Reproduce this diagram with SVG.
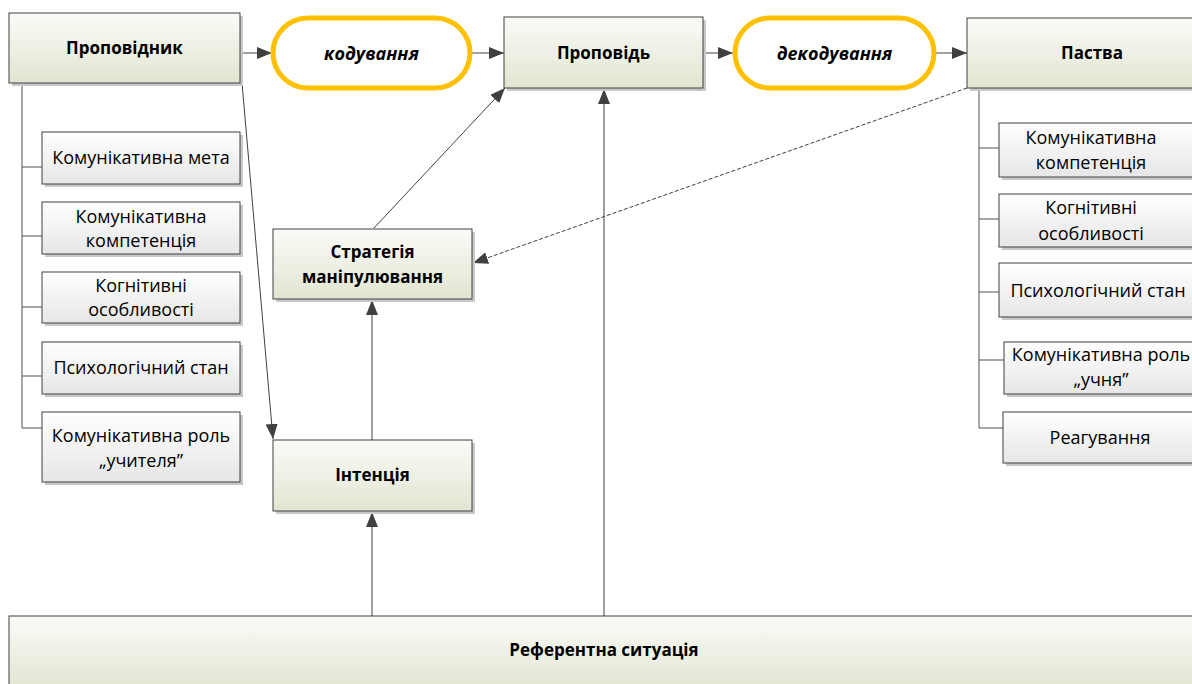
<svg xmlns="http://www.w3.org/2000/svg" width="1192" height="684" viewBox="0 0 1192 684">
<defs>
<linearGradient id="gG" x1="0" y1="0" x2="0" y2="1"><stop offset="0" stop-color="#fbfbf7"/><stop offset="1" stop-color="#e0e5d1"/></linearGradient>
<linearGradient id="gS" x1="0" y1="0" x2="0" y2="1"><stop offset="0" stop-color="#ffffff"/><stop offset="1" stop-color="#e6e6e6"/></linearGradient>
<marker id="ar" viewBox="0 0 15 12" refX="15" refY="6" markerWidth="15" markerHeight="12" markerUnits="userSpaceOnUse" orient="auto"><path d="M0,0 L15,6 L0,12 Z" fill="#404040"/></marker>
<style>
.main{fill:url(#gG);stroke:#404040;stroke-width:1}
.sub{fill:url(#gS);stroke:#404040;stroke-width:1}
.sh{fill:#c8c8c8}
.pill{fill:#fff;stroke:#ffc000;stroke-width:5}
.tb{font-family:"Open Sans","Noto Sans",sans-serif;font-weight:bold;font-size:17px;fill:#000;text-anchor:middle}
.ti{font-family:"Open Sans","Noto Sans",sans-serif;font-weight:bold;font-style:italic;font-size:18px;fill:#000;text-anchor:middle}
.tn{font-family:"Open Sans","Noto Sans",sans-serif;font-size:18px;fill:#000;text-anchor:middle}
.c{stroke:#404040;stroke-width:1;fill:none}
.t{stroke:#505050;stroke-width:1;fill:none}
</style>
</defs>
<rect width="1192" height="684" fill="#fff"/>

<g id="tree-lines">
<path class="t" d="M22,83 V428 M22,167 H42 M22,236 H42 M22,307 H42 M22,376 H42 M22,428 H42"/>
<path class="t" d="M979,88 V428 M979,148 H999 M979,219 H999 M979,292 H999 M979,360 H1004 M979,428 H1003"/>
</g>

<g id="connectors">
<line class="c" x1="240" y1="53" x2="272" y2="53" marker-end="url(#ar)"/>
<line class="c" x1="471" y1="53" x2="504" y2="53" marker-end="url(#ar)"/>
<line class="c" x1="703" y1="53" x2="733" y2="53" marker-end="url(#ar)"/>
<line class="c" x1="936" y1="53" x2="967" y2="53" marker-end="url(#ar)"/>
<line class="c" x1="240" y1="60" x2="273" y2="439" marker-end="url(#ar)"/>
<line class="c" x1="374" y1="228" x2="505" y2="88" marker-end="url(#ar)"/>
<line class="c" x1="372" y1="440" x2="372" y2="300" marker-end="url(#ar)"/>
<line class="c" x1="372" y1="616" x2="372" y2="512" marker-end="url(#ar)"/>
<line class="c" x1="604" y1="616" x2="604" y2="89" marker-end="url(#ar)"/>
<line class="c" x1="967" y1="88" x2="473" y2="263" stroke-dasharray="4,2" marker-end="url(#ar)"/>
</g>

<g id="n-propovidnyk">
<rect class="sh" x="12" y="16" width="231" height="70"/>
<rect class="main" x="9" y="13" width="231" height="70"/>
<text class="tb" x="124.5" y="54">Проповідник</text>
</g>

<g id="n-koduvannia">
<rect class="pill" x="273" y="18" width="197" height="70" rx="35"/>
<text class="ti" x="371.5" y="59.5">кодування</text>
</g>

<g id="n-propovid">
<rect class="sh" x="507" y="20" width="199" height="71"/>
<rect class="main" x="504" y="17" width="199" height="71"/>
<text class="tb" x="603.5" y="59">Проповідь</text>
</g>

<g id="n-dekoduvannia">
<rect class="pill" x="735" y="18" width="199" height="70" rx="35"/>
<text class="ti" x="834.5" y="59.5">декодування</text>
</g>

<g id="n-pastva">
<rect class="sh" x="970" y="21" width="230" height="70"/>
<rect class="main" x="967" y="18" width="230" height="70"/>
<text class="tb" x="1092" y="59">Паства</text>
</g>

<g id="n-l1">
<rect class="sh" x="45" y="135" width="198" height="52"/>
<rect class="sub" x="42" y="132" width="198" height="52"/>
<text class="tn" x="141" y="164">Комунікативна мета</text>
</g>
<g id="n-l2">
<rect class="sh" x="45" y="205" width="198" height="52"/>
<rect class="sub" x="42" y="202" width="198" height="52"/>
<text class="tn" x="141" y="223">Комунікативна</text>
<text class="tn" x="141" y="247">компетенція</text>
</g>
<g id="n-l3">
<rect class="sh" x="45" y="275" width="198" height="51"/>
<rect class="sub" x="42" y="272" width="198" height="51"/>
<text class="tn" x="141" y="292">Когнітивні</text>
<text class="tn" x="141" y="316">особливості</text>
</g>
<g id="n-l4">
<rect class="sh" x="45" y="345" width="198" height="52"/>
<rect class="sub" x="42" y="342" width="198" height="52"/>
<text class="tn" x="141" y="374">Психологічний стан</text>
</g>
<g id="n-l5">
<rect class="sh" x="45" y="415" width="198" height="70"/>
<rect class="sub" x="42" y="412" width="198" height="70"/>
<text class="tn" x="141" y="442">Комунікативна роль</text>
<text class="tn" x="141" y="467">„учителя”</text>
</g>

<g id="n-r1">
<rect class="sh" x="1002" y="126" width="200" height="54"/>
<rect class="sub" x="999" y="123" width="200" height="54"/>
<text class="tn" x="1091" y="144">Комунікативна</text>
<text class="tn" x="1091" y="169">компетенція</text>
</g>
<g id="n-r2">
<rect class="sh" x="1002" y="197" width="200" height="53"/>
<rect class="sub" x="999" y="194" width="200" height="53"/>
<text class="tn" x="1091" y="214">Когнітивні</text>
<text class="tn" x="1091" y="240">особливості</text>
</g>
<g id="n-r3">
<rect class="sh" x="1002" y="266" width="200" height="54"/>
<rect class="sub" x="999" y="263" width="200" height="54"/>
<text class="tn" x="1098" y="297">Психологічний стан</text>
</g>
<g id="n-r4">
<rect class="sh" x="1007" y="345" width="200" height="52"/>
<rect class="sub" x="1004" y="342" width="200" height="52"/>
<text class="tn" x="1101" y="361">Комунікативна роль</text>
<text class="tn" x="1101" y="386">„учня”</text>
</g>
<g id="n-r5">
<rect class="sh" x="1006" y="415" width="200" height="51"/>
<rect class="sub" x="1003" y="412" width="200" height="51"/>
<text class="tn" x="1100" y="444">Реагування</text>
</g>

<g id="n-stratehiia">
<rect class="sh" x="276" y="232" width="199" height="70"/>
<rect class="main" x="273" y="229" width="199" height="70"/>
<text class="tb" x="372.5" y="258">Стратегія</text>
<text class="tb" x="372.5" y="283">маніпулювання</text>
</g>

<g id="n-intentsiia">
<rect class="sh" x="276" y="443" width="199" height="71"/>
<rect class="main" x="273" y="440" width="199" height="71"/>
<text class="tb" x="372.5" y="481">Інтенція</text>
</g>

<g id="n-referentna">
<rect class="sh" x="12" y="619" width="1190" height="70"/>
<rect class="main" x="9" y="616" width="1190" height="75"/>
<text class="tb" x="604" y="656">Референтна ситуація</text>
</g>
</svg>
